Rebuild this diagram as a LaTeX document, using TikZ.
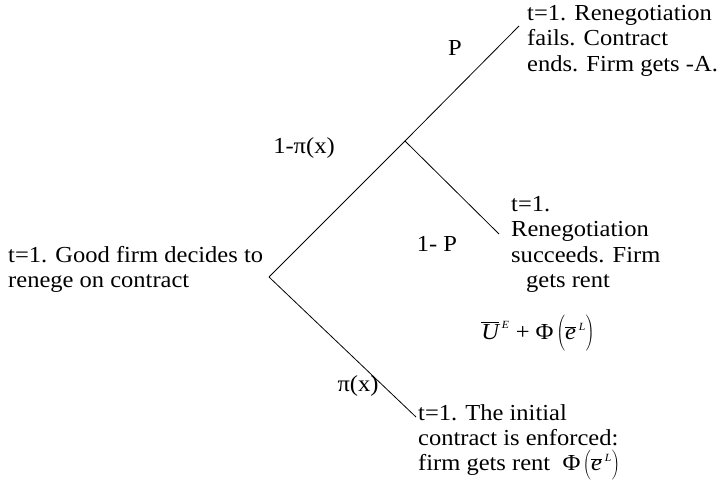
\documentclass[tikz,border=0pt]{standalone}
\usepackage{fontspec}
\setmainfont[FakeStretch=1.07]{Liberation Serif}
\newcommand{\supit}[1]{\mbox{\fontsize{11}{11}\selectfont\itshape #1}}
\newcommand{\phiterm}[1]{\mbox{Φ}\mkern-1mu\left(\rule[-9bp]{0pt}{#1}\overline{\mbox{\itshape e}}^{\,\supit{L}}\right)}
\begin{document}
\begin{tikzpicture}[x=1bp,y=-1bp,
  txt/.style={anchor=north west, inner sep=0pt, align=left, font=\fontsize{23}{25.5}\selectfont},
  lbl/.style={inner sep=0pt, font=\fontsize{23}{25.5}\selectfont},
  edge/.style={draw=black, line width=0.8pt}]
\useasboundingbox (0,0) rectangle (720,501);
\coordinate (root) at (269,277);
\coordinate (mid) at (405,141);
\coordinate (fail) at (519,26);
\coordinate (succ) at (499,234);
\coordinate (enf) at (416,417);

\draw[edge] (root) -- (mid);
\draw[edge] (mid) -- (fail);
\draw[edge] (mid) -- (succ);
\draw[edge] (root) -- (enf);

\node[txt] (tA) at (527,5) {t=1. Renegotiation\\fails. Contract\\ends. Firm gets -A.};
\node[txt] (tB) at (511,196) {t=1.\\Renegotiation\\succeeds. Firm\\\hspace*{15bp}gets rent};
\node[lbl, anchor=base] (fB) at (538,339) {$\overline{\mbox{\itshape U}}^{\,\supit{E}}\mbox{ + }\phiterm{33bp}$};
\node[txt] (tC) at (8,246) {t=1. Good firm decides to\\renege on contract};
\node[txt] (tD) at (418,404) {t=1. The initial\\contract is enforced:\\firm gets rent \ $\phiterm{26bp}$};

\node[lbl] (lP) at (455,48) {P};
\node[lbl] (l1p) at (304,148) {1-π(x)};
\node[lbl] (l1P) at (437,244) {1- P};
\node[lbl] (lpi) at (358,386) {π(x)};
\end{tikzpicture}
\end{document}
